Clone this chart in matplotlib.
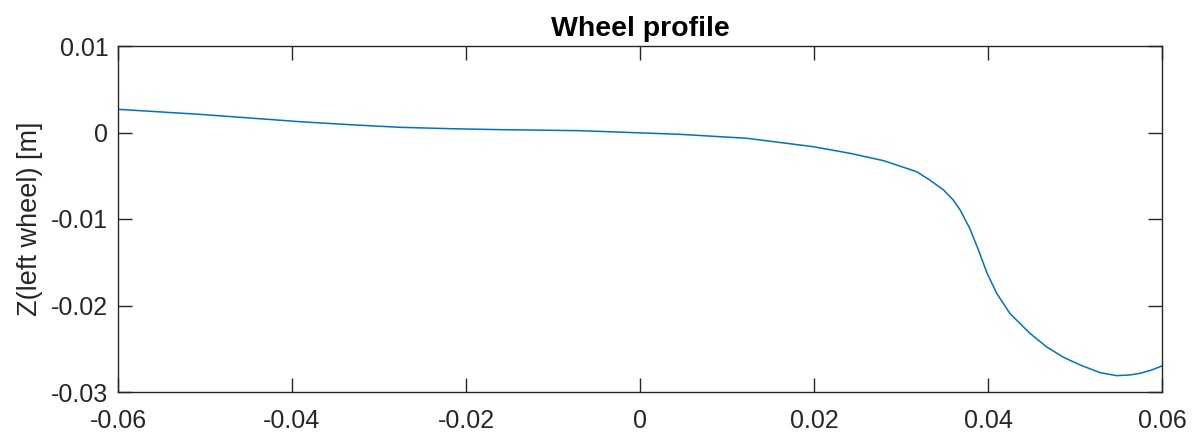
import numpy as np
import matplotlib.pyplot as plt

# wheel profile points (lateral position [m], height [m])
y_lat = [-0.0600, -0.0506, -0.0391, -0.0333, -0.0276, -0.0218, -0.0161, -0.0069,
         0.0046, 0.0123, 0.0199, 0.0241, 0.0280, 0.0318, 0.0333, 0.0349,
         0.0360, 0.0368, 0.0379, 0.0389, 0.0399, 0.0410, 0.0425, 0.0437,
         0.0448, 0.0467, 0.0487, 0.0506, 0.0529, 0.0548, 0.0563, 0.0575,
         0.0588, 0.0600]
z_left = [0.00268, 0.00210, 0.00125, 0.00090, 0.00060, 0.00044, 0.00033, 0.00021,
          -0.00021, -0.00067, -0.00164, -0.00240, -0.00326, -0.00453, -0.00549, -0.00665,
          -0.00780, -0.00896, -0.01108, -0.01358, -0.01628, -0.01859, -0.02090, -0.02210,
          -0.02320, -0.02476, -0.02600, -0.02688, -0.02777, -0.02811, -0.02803, -0.02784,
          -0.02746, -0.02699]

x_ticks = [-0.06, -0.04, -0.02, 0, 0.02, 0.04, 0.06]
x_labels = ['-0.06', '-0.04', '-0.02', '0', '0.02', '0.04', '0.06']
y_ticks = [-0.03, -0.02, -0.01, 0, 0.01]
y_labels = ['-0.03', '-0.02', '-0.01', '0', '0.01']

plt.rcParams['font.family'] = ['Liberation Sans', 'DejaVu Sans']
axis_col = '#262626'

fig = plt.figure(figsize=(11.94, 4.34), dpi=100)
ax = fig.add_axes([118 / 1194, 1 - 392 / 434, (1162 - 118) / 1194, (392 - 46) / 434])

ax.plot(y_lat, z_left, color='#0072BD', lw=1.1,
        solid_joinstyle='round', solid_capstyle='round')

ax.set_xlim(-0.06, 0.06)
ax.set_ylim(-0.03, 0.01)
ax.set_xticks(x_ticks)
ax.set_xticklabels(x_labels)
ax.set_yticks(y_ticks)
ax.set_yticklabels(y_labels)
ax.tick_params(direction='in', length=10, width=1, colors=axis_col, labelsize=18,
               top=True, right=True)
ax.tick_params(axis='x', pad=12)
ax.tick_params(axis='y', pad=7)
for s in ax.spines.values():
    s.set_color(axis_col)
    s.set_linewidth(1)

ax.set_ylabel('Z(left wheel) [m]', fontsize=19.5, color=axis_col, labelpad=6)
ax.set_title('Wheel profile', fontsize=20.5, fontweight='bold', color='black', pad=7)

fig.savefig('out.png', dpi=100)
